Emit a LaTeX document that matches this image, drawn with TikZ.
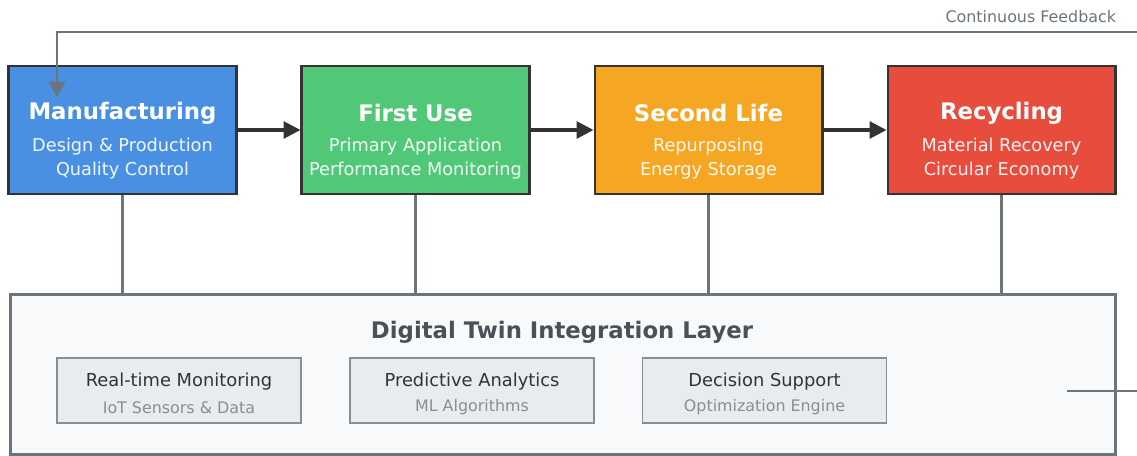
\documentclass[tikz,border=0pt]{standalone}
\usepackage{fontspec}
\setmainfont{DejaVu Sans}
\usepackage{tikz}
\usetikzlibrary{positioning, arrows.meta}

\definecolor{mfgblue}{HTML}{4A90E2}
\definecolor{usegreen}{HTML}{50C878}
\definecolor{lifeorange}{HTML}{F5A623}
\definecolor{recred}{HTML}{E74C3C}
\definecolor{darkline}{HTML}{333333}
\definecolor{grayline}{HTML}{6C757D}
\definecolor{layerfill}{HTML}{F8F9FA}
\definecolor{subfill}{HTML}{E9ECEF}
\definecolor{titlegray}{HTML}{495057}
\definecolor{subgray}{HTML}{868E96}

\begin{document}
\begin{tikzpicture}[
    x=0.025cm, y=-0.025cm,
    stage/.style={draw=darkline, line width=2.1pt, rectangle, minimum width=5.675cm, minimum height=3.2cm, inner sep=0pt},
    ttl/.style={text=white, font=\fontsize{16.2}{18}\selectfont\bfseries},
    desc/.style={text=white, opacity=0.92, font=\fontsize{12.6}{14}\selectfont},
    flow/.style={-{Triangle[length=12pt, width=12pt]}, line width=2.2pt, darkline},
    link/.style={line width=1.8pt, grayline},
    tool/.style={draw=subgray, line width=1pt, fill=subfill, rectangle, minimum width=6.1cm, minimum height=1.625cm, inner sep=0pt},
]
\useasboundingbox (0,0) rectangle (1137,455);
\clip (0,0) rectangle (1137,455);

% Digital twin layer
\node[draw=grayline, line width=1.8pt, fill=layerfill, rectangle, minimum width=27.625cm, minimum height=4.0cm, inner sep=0pt, anchor=north west] (layer) at (9,293) {};
\node[text=titlegray, font=\fontsize{16.2}{18}\selectfont\bfseries] (layerT) at (562,332) {Digital Twin Integration Layer};

% Lifecycle stages
\node[stage, fill=mfgblue] (mfg) at (122.5,130) {};
\node[stage, fill=usegreen] (use) at (415.5,130) {};
\node[stage, fill=lifeorange] (life) at (708.5,130) {};
\node[stage, fill=recred] (rec) at (1001.5,130) {};

\node[ttl] (mfgT) at (122.5,113) {Manufacturing};
\node[desc] (mfgA) at (122.5,146.5) {Design \& Production};
\node[desc] (mfgB) at (122.5,170.5) {Quality Control};

\node[ttl] (useT) at (415.5,113) {First Use};
\node[desc] (useA) at (415.5,146.5) {Primary Application};
\node[desc] (useB) at (415.5,170.5) {Performance Monitoring};

\node[ttl] (lifeT) at (708.5,113) {Second Life};
\node[desc] (lifeA) at (708.5,146.5) {Repurposing};
\node[desc] (lifeB) at (708.5,170.5) {Energy Storage};

\node[ttl] (recT) at (1001.5,113) {Recycling};
\node[desc] (recA) at (1001.5,146.5) {Material Recovery};
\node[desc] (recB) at (1001.5,170.5) {Circular Economy};

% Flow arrows
\draw[flow] (mfg.east) -- (use.west);
\draw[flow] (use.east) -- (life.west);
\draw[flow] (life.east) -- (rec.west);

% Links down to the layer
\draw[link] (mfg.south) -- (mfg.south |- layer.north);
\draw[link] (use.south) -- (use.south |- layer.north);
\draw[link] (life.south) -- (life.south |- layer.north);
\draw[link] (rec.south) -- (rec.south |- layer.north);

% Twin tools
\node[tool] (mon) at (179,390.5) {};
\node[text=darkline, font=\fontsize{12.7}{14}\selectfont] (monT) at (179,381.5) {Real-time Monitoring};
\node[text=subgray, font=\fontsize{11.3}{12}\selectfont] (monS) at (179,407.5) {IoT Sensors \& Data};

\node[tool] (pred) at (472,390.5) {};
\node[text=darkline, font=\fontsize{12.7}{14}\selectfont] (predT) at (472,381.5) {Predictive Analytics};
\node[text=subgray, font=\fontsize{11.3}{12}\selectfont] (predS) at (472,407.5) {ML Algorithms};

\node[tool] (dec) at (764.5,390.5) {};
\node[text=darkline, font=\fontsize{12.7}{14}\selectfont] (decT) at (764.5,381.5) {Decision Support};
\node[text=subgray, font=\fontsize{11.3}{12}\selectfont] (decS) at (764.5,407.5) {Optimization Engine};

% Continuous feedback loop
\coordinate (fb) at (1067,391);
\coordinate (fbtip) at (57,97);
\draw[link, -{Triangle[length=11pt, width=12pt]}] (fb) -- (1160,391) -- (1160,32) -- (fbtip |- 0,32) -- (fbtip);
\node[text=grayline, anchor=east, font=\fontsize{11.3}{12}\selectfont] (fbT) at (1121,17) {Continuous Feedback};

\end{tikzpicture}
\end{document}
